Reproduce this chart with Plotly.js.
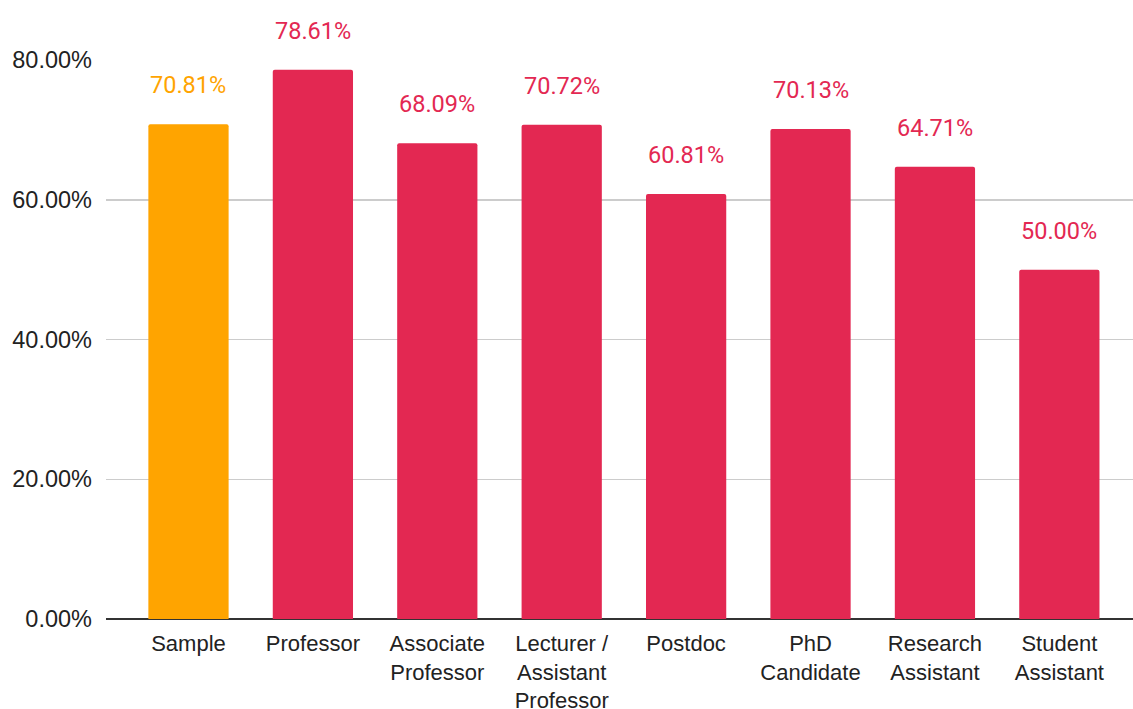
<!DOCTYPE html>
<html>
<head>
<meta charset="utf-8">
<script src="https://cdn.plot.ly/plotly-3.0.1.min.js"></script>
<style>html,body{margin:0;padding:0;background:#fff;}#chart{width:1133px;height:709px;}</style>
</head>
<body>
<div id="chart"></div>
<script>
const categories = ["Sample", "Professor", "Associate<br>Professor", "Lecturer /<br>Assistant<br>Professor", "Postdoc", "PhD<br>Candidate", "Research<br>Assistant", "Student<br>Assistant"];
const values = [0.7081, 0.7861, 0.6809, 0.7072, 0.6081, 0.7013, 0.6471, 0.5000];
const labels = ["70.81%", "78.61%", "68.09%", "70.72%", "60.81%", "70.13%", "64.71%", "50.00%"];
const barColors = ["#FFA400", "#E32852", "#E32852", "#E32852", "#E32852", "#E32852", "#E32852", "#E32852"];
const yTickVals = [0, 0.2, 0.4, 0.6, 0.8];

const trace = {
  type: "bar",
  x: categories.map((c, i) => i),
  y: values,
  width: 0.645,
  marker: { color: barColors, cornerradius: 2 },
  hoverinfo: "none"
};

const annotations = values.map((v, i) => ({
  x: i, y: v, xref: "x", yref: "y",
  text: labels[i],
  showarrow: false,
  yanchor: "middle",
  yshift: 39,
  font: { family: "Roboto", size: 23.5, color: barColors[i] }
}));

const layout = {
  width: 1133, height: 709,
  margin: { l: 106, r: 0, t: 60, b: 90, pad: 0 },
  paper_bgcolor: "#fff", plot_bgcolor: "#fff",
  showlegend: false,
  xaxis: {
    range: [-0.663, 7.592],
    tickmode: "array",
    tickvals: categories.map((c, i) => i),
    ticktext: categories,
    showgrid: false, zeroline: false,
    showline: false, ticks: "",
    ticklabelstandoff: 9,
    tickfont: { family: "Liberation Sans", size: 22, color: "#222" },
    fixedrange: true
  },
  yaxis: {
    range: [0, 0.8],
    tickmode: "array",
    tickvals: yTickVals,
    tickformat: ".2%",
    showgrid: true, gridcolor: "#cccccc", gridwidth: 1.5,
    zeroline: true, zerolinecolor: "#333333", zerolinewidth: 1.5,
    ticks: "", ticklabelstandoff: 13,
    tickfont: { family: "Liberation Sans", size: 23.5, color: "#222" },
    fixedrange: true
  },
  annotations: annotations
};

Plotly.newPlot("chart", [trace], layout, { displayModeBar: false, staticPlot: true });
</script>
</body>
</html>
